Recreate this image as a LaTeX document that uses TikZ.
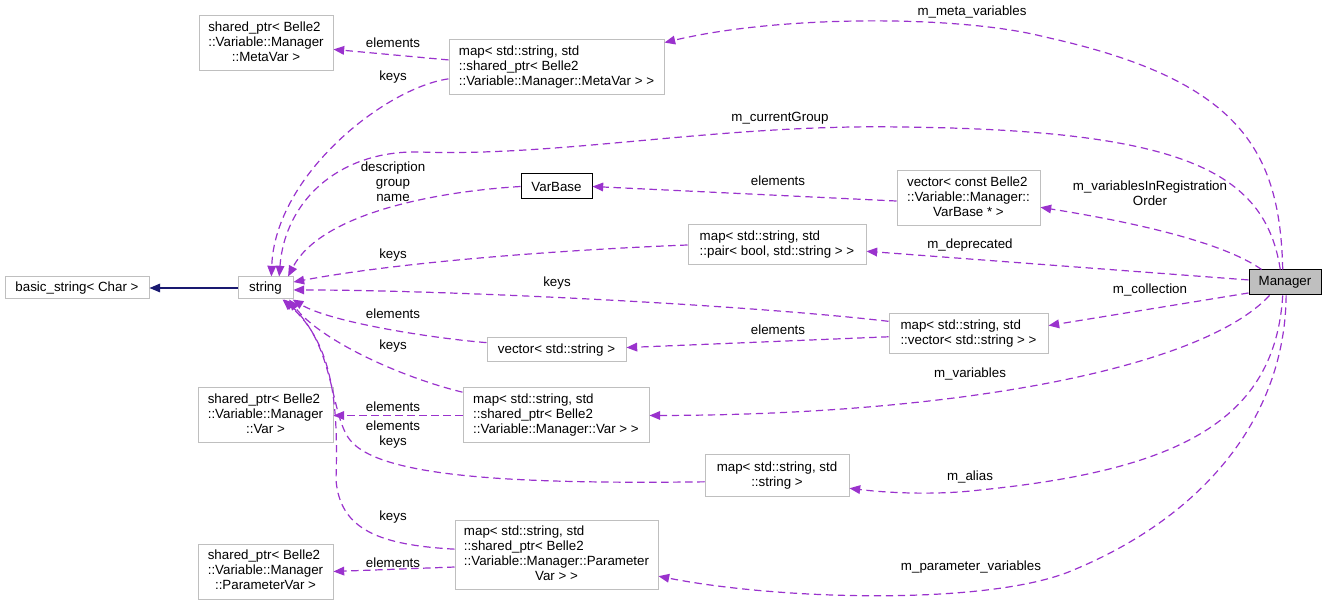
\documentclass[tikz,border=0pt]{standalone}
\usepackage{fontspec}
\setmainfont{Liberation Sans}
\usetikzlibrary{arrows.meta}
\definecolor{relpurple}{HTML}{9A32CD}
\definecolor{inhnavy}{HTML}{191970}
\definecolor{boxgray}{HTML}{BFBFBF}
% left aligned lines, last one centred (as doxygen does)
\newcommand{\boxtext}[2]{\begin{tabular}{@{}l@{}}#1\\\multicolumn{1}{@{}c@{}}{#2}\end{tabular}}

\begin{document}
\begin{tikzpicture}[x=0.75pt, y=-0.75pt, >={Triangle[length=8pt,width=6.5pt]},
    every node/.style={font=\fontsize{10}{11.25}\selectfont},
    cls/.style 2 args={draw=boxgray, fill=white, line width=0.75pt, inner sep=0pt,
        minimum width=#1*0.75pt, minimum height=#2*0.75pt},
    rel/.style={->, draw=relpurple, line width=0.9pt, dash pattern=on 5.5pt off 3.5pt},
    lbl/.style={align=center, inner sep=0pt}]
    \useasboundingbox (0,0) rectangle (1327,605);

    % classes
    \node[cls={144}{22}] (bstr) at (77,288) {basic\_string< Char >};
    \node[cls={55}{22}] (str) at (265.5,288) {string};
    \node[cls={134}{55}] (smeta) at (266,43.5) {\boxtext{shared\_ptr< Belle2\\::Variable::Manager}{::MetaVar >}};
    \node[cls={215}{55}] (mapmeta) at (556.5,67.5) {\boxtext{map< std::string, std\\::shared\_ptr< Belle2}{::Variable::Manager::MetaVar > >}};
    \node[cls={71}{25}, draw=black] (varbase) at (556.5,186.5) {VarBase};
    \node[cls={143}{55}] (vconst) at (968.5,198.5) {\boxtext{vector< const Belle2\\::Variable::Manager::}{VarBase * >}};
    \node[cls={178}{40}] (mappair) at (777,245) {\boxtext{map< std::string, std}{::pair< bool, std::string > >}};
    \node[cls={72}{25}, draw=black, fill=boxgray] (mgr) at (1285,282.5) {Manager};
    \node[cls={159}{40}] (mapvec) at (968.5,334) {\boxtext{map< std::string, std}{::vector< std::string > >}};
    \node[cls={139}{24}] (vstr) at (556.5,350) {vector< std::string >};
    \node[cls={135}{55}] (svar) at (265.5,415.5) {\boxtext{shared\_ptr< Belle2\\::Variable::Manager}{::Var >}};
    \node[cls={186}{55}] (mapvar) at (556,415.5) {\boxtext{map< std::string, std\\::shared\_ptr< Belle2}{::Variable::Manager::Var > >}};
    \node[cls={144}{41}] (mapstr) at (777,475.5) {\boxtext{map< std::string, std}{::string >}};
    \node[cls={135}{55}] (sparam) at (265.5,571.5) {\boxtext{shared\_ptr< Belle2\\::Variable::Manager}{::ParameterVar >}};
    \node[cls={203}{69}] (mapparam) at (556.5,554.5) {\boxtext{map< std::string, std\\::shared\_ptr< Belle2\\::Variable::Manager::Parameter}{Var > >}};

    % inheritance
    \draw[->, draw=inhnavy, line width=0.9pt] (str) -- (bstr);

    % usage
    \draw[rel] (mapmeta.176) -- (smeta.-5) node[lbl, at={(393,43)}] (lmeta1) {elements};
    \draw[rel] (mapmeta.186) .. controls (385,88) and (275,175) .. (str.63) node[lbl, at={(393,77)}] (lmeta2) {keys};
    \draw[rel] (mgr.100) .. controls (1280,150) and (1240,80) .. (1045,37) .. controls (960,15) and (780,15) .. (mapmeta.13)
        node[lbl, at={(972,12)}] (lmgr1) {m\_meta\_variables};
    \draw[rel] (mgr.110) .. controls (1265,170) and (1180,130) .. (900,127) .. controls (720,124) and (560,157) .. (420,152)
        .. controls (340,150) and (285,200) .. (str.40) node[lbl, at={(780,118)}] (lmgr2) {m\_currentGroup};
    \draw[rel] (varbase.west) .. controls (430,192) and (320,215) .. (str.27) node[lbl, at={(393,182)}] (lvb) {description\\group\\name};
    \draw[rel] (vconst.182) -- (varbase.east) node[lbl, at={(778,181)}] (lvc) {elements};
    \draw[rel] (mgr.151) .. controls (1220,240) and (1120,220) .. (vconst.-7) node[lbl, at={(1150,193)}] (lmgr3) {m\_variablesInRegistration\\Order};
    \draw[rel] (mappair.west) .. controls (560,250) and (400,262) .. (str.12) node[lbl, at={(393,255)}] (lpair) {keys};
    \draw[rel] (mgr.176) -- (mappair.-4.5) node[lbl, at={(970,245)}] (lmgr4) {m\_deprecated};
    \draw[rel] (mapvec.171) .. controls (750,305) and (450,290) .. (str.-4) node[lbl, at={(557,283)}] (lvec1) {keys};
    \draw[rel] (mgr.196) -- (mapvec.6.5) node[lbl, at={(1150,290)}] (lmgr5) {m\_collection};
    \draw[rel] (vstr.174) .. controls (430,338) and (330,322) .. (str.-23) node[lbl, at={(393,314)}] (lvstr) {elements};
    \draw[rel] (mapvec.182) -- (vstr.2.5) node[lbl, at={(778,330)}] (lvec2) {elements};
    \draw[rel] (mapvar.166) .. controls (400,377) and (320,340) .. (str.-26) node[lbl, at={(393,346)}] (lvar1) {keys};
    \draw[rel] (mapvar.west) -- (svar.east) node[lbl, at={(393,407)}] (lvar2) {elements};
    \draw[rel] (mgr.-140) .. controls (1200,370) and (950,415) .. (mapvar.east) node[lbl, at={(970,374)}] (lmgr6) {m\_variables};
    \draw[rel] (mapstr.185) .. controls (520,484) and (380,478) .. (350,440) .. controls (330,415) and (335,345) .. (str.-32)
        node[lbl, at={(393,434.5)}] (lalias) {elements\\keys};
    \draw[rel] (mgr.-100) .. controls (1275,420) and (1180,470) .. (980,490) .. controls (930,496) and (880,492) .. (mapstr.-10)
        node[lbl, at={(970,477)}] (lmgr7) {m\_alias};
    \draw[rel] (mgr.-85) .. controls (1285,420) and (1200,520) .. (1066,573) .. controls (980,605) and (780,600) .. (mapparam.-12.5)
        node[lbl, at={(971,567)}] (lmgr8) {m\_parameter\_variables};
    \draw[rel] (mapparam.187.6) -- (sparam.east) node[lbl, at={(393,563)}] (lpar1) {elements};
    \draw[rel] (mapparam.177) .. controls (380,545) and (340,530) .. (336,480) .. controls (338,410) and (335,345) .. (str.-34)
        node[lbl, at={(393,517)}] (lpar2) {keys};
\end{tikzpicture}
\end{document}
